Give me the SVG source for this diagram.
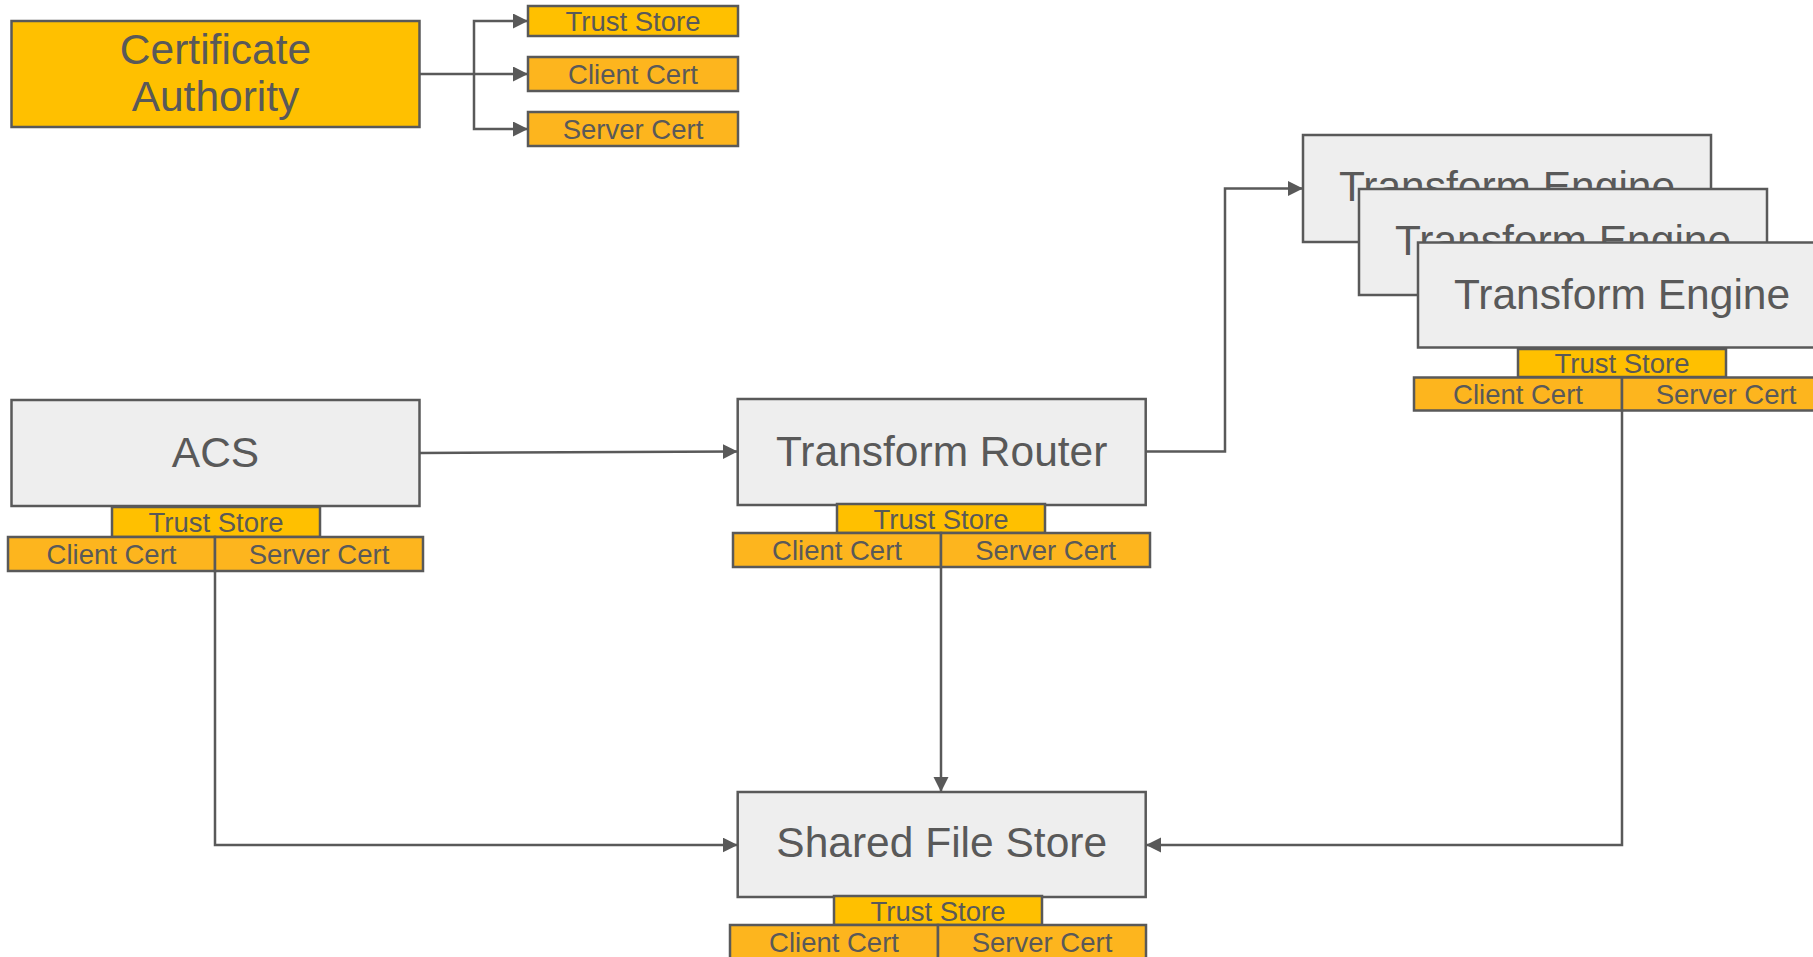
<svg xmlns="http://www.w3.org/2000/svg" width="1813" height="957" viewBox="0 0 1813 957">
<defs>
<style>
.box{fill:#eeeeee;stroke:#595959;stroke-width:2.5}
.ca{fill:#ffc000;stroke:#595959;stroke-width:2.5}
.ts{fill:#ffc000;stroke:#595959;stroke-width:2.5}
.cert{fill:#fdb51e;stroke:#595959;stroke-width:2.5}
.big{font-family:"Liberation Sans",Arial,sans-serif;font-size:42.5px;fill:#595959;text-anchor:middle}
.sm{font-family:"Liberation Sans",Arial,sans-serif;font-size:27.5px;fill:#595959;text-anchor:middle}
.conn{fill:none;stroke:#595959;stroke-width:2.5}
</style>
<marker id="arr" markerUnits="userSpaceOnUse" markerWidth="16" markerHeight="16" refX="15" refY="7.5" orient="auto">
<path d="M0,0 L15,7.5 L0,15 Z" fill="#595959"/>
</marker>
</defs>
<rect width="1813" height="957" fill="#ffffff"/>

<g id="ca">
<rect class="ca" x="11.5" y="21" width="408" height="106"/>
<text class="big" x="215.5" y="64">Certificate</text>
<text class="big" x="215.5" y="111">Authority</text>
</g>
<g id="ca-truststore">
<rect class="ts" x="528" y="6" width="210" height="30"/>
<text class="sm" x="633" y="30.5">Trust Store</text>
</g>
<g id="ca-clientcert">
<rect class="cert" x="528" y="57" width="210" height="34"/>
<text class="sm" x="633" y="83.5">Client Cert</text>
</g>
<g id="ca-servercert">
<rect class="cert" x="528" y="112" width="210" height="34"/>
<text class="sm" x="633" y="138.5">Server Cert</text>
</g>

<g id="acs">
<rect class="box" x="11.5" y="400" width="408" height="106"/>
<text class="big" x="215.5" y="467">ACS</text>
<rect class="ts" x="112" y="507" width="208" height="30"/>
<text class="sm" x="216" y="532">Trust Store</text>
<rect class="cert" x="8" y="537" width="207" height="34"/>
<text class="sm" x="111.5" y="563.5">Client Cert</text>
<rect class="cert" x="215" y="537" width="208" height="34"/>
<text class="sm" x="319" y="563.5">Server Cert</text>
</g>

<g id="router">
<rect class="box" x="737.7" y="399" width="408" height="106"/>
<text class="big" x="941.7" y="466">Transform Router</text>
<rect class="ts" x="837" y="504" width="208" height="29"/>
<text class="sm" x="941" y="528.5">Trust Store</text>
<rect class="cert" x="733" y="533" width="208" height="34"/>
<text class="sm" x="837" y="559.5">Client Cert</text>
<rect class="cert" x="941" y="533" width="209" height="34"/>
<text class="sm" x="1045.5" y="559.5">Server Cert</text>
</g>

<g id="sfs">
<rect class="box" x="737.7" y="792" width="408" height="105"/>
<text class="big" x="941.7" y="857">Shared File Store</text>
<rect class="ts" x="834" y="896" width="208" height="29"/>
<text class="sm" x="938" y="920.5">Trust Store</text>
<rect class="cert" x="730" y="925" width="208" height="34"/>
<text class="sm" x="834" y="951.5">Client Cert</text>
<rect class="cert" x="938" y="925" width="208" height="34"/>
<text class="sm" x="1042" y="951.5">Server Cert</text>
</g>

<g id="engine1">
<rect class="box" x="1303" y="135" width="408" height="107"/>
<text class="big" x="1507" y="201">Transform Engine</text>
</g>
<g id="engine2">
<rect class="box" x="1359" y="189" width="408" height="106"/>
<text class="big" x="1563" y="255">Transform Engine</text>
</g>
<g id="engine3">
<rect class="box" x="1418" y="242.5" width="408" height="105"/>
<text class="big" x="1622" y="309">Transform Engine</text>
<rect class="ts" x="1518" y="349" width="208" height="28"/>
<text class="sm" x="1622" y="372.5">Trust Store</text>
<rect class="cert" x="1414" y="377.5" width="208" height="33"/>
<text class="sm" x="1518" y="403.5">Client Cert</text>
<rect class="cert" x="1622" y="377.5" width="208" height="33"/>
<text class="sm" x="1726" y="403.5">Server Cert</text>
</g>

<g id="connectors">
<path class="conn" d="M420,74 H474"/>
<path class="conn" d="M474,74 V21 H528" marker-end="url(#arr)"/>
<path class="conn" d="M474,74 H528" marker-end="url(#arr)"/>
<path class="conn" d="M474,74 V129 H528" marker-end="url(#arr)"/>
<path class="conn" d="M420,453 L737.7,451.5" marker-end="url(#arr)"/>
<path class="conn" d="M1146,451.5 H1225 V188.5 H1303" marker-end="url(#arr)"/>
<path class="conn" d="M941,567 V792" marker-end="url(#arr)"/>
<path class="conn" d="M215,571 V845 H737.7" marker-end="url(#arr)"/>
<path class="conn" d="M1622,410.5 V845 H1146" marker-end="url(#arr)"/>
</g>
</svg>
